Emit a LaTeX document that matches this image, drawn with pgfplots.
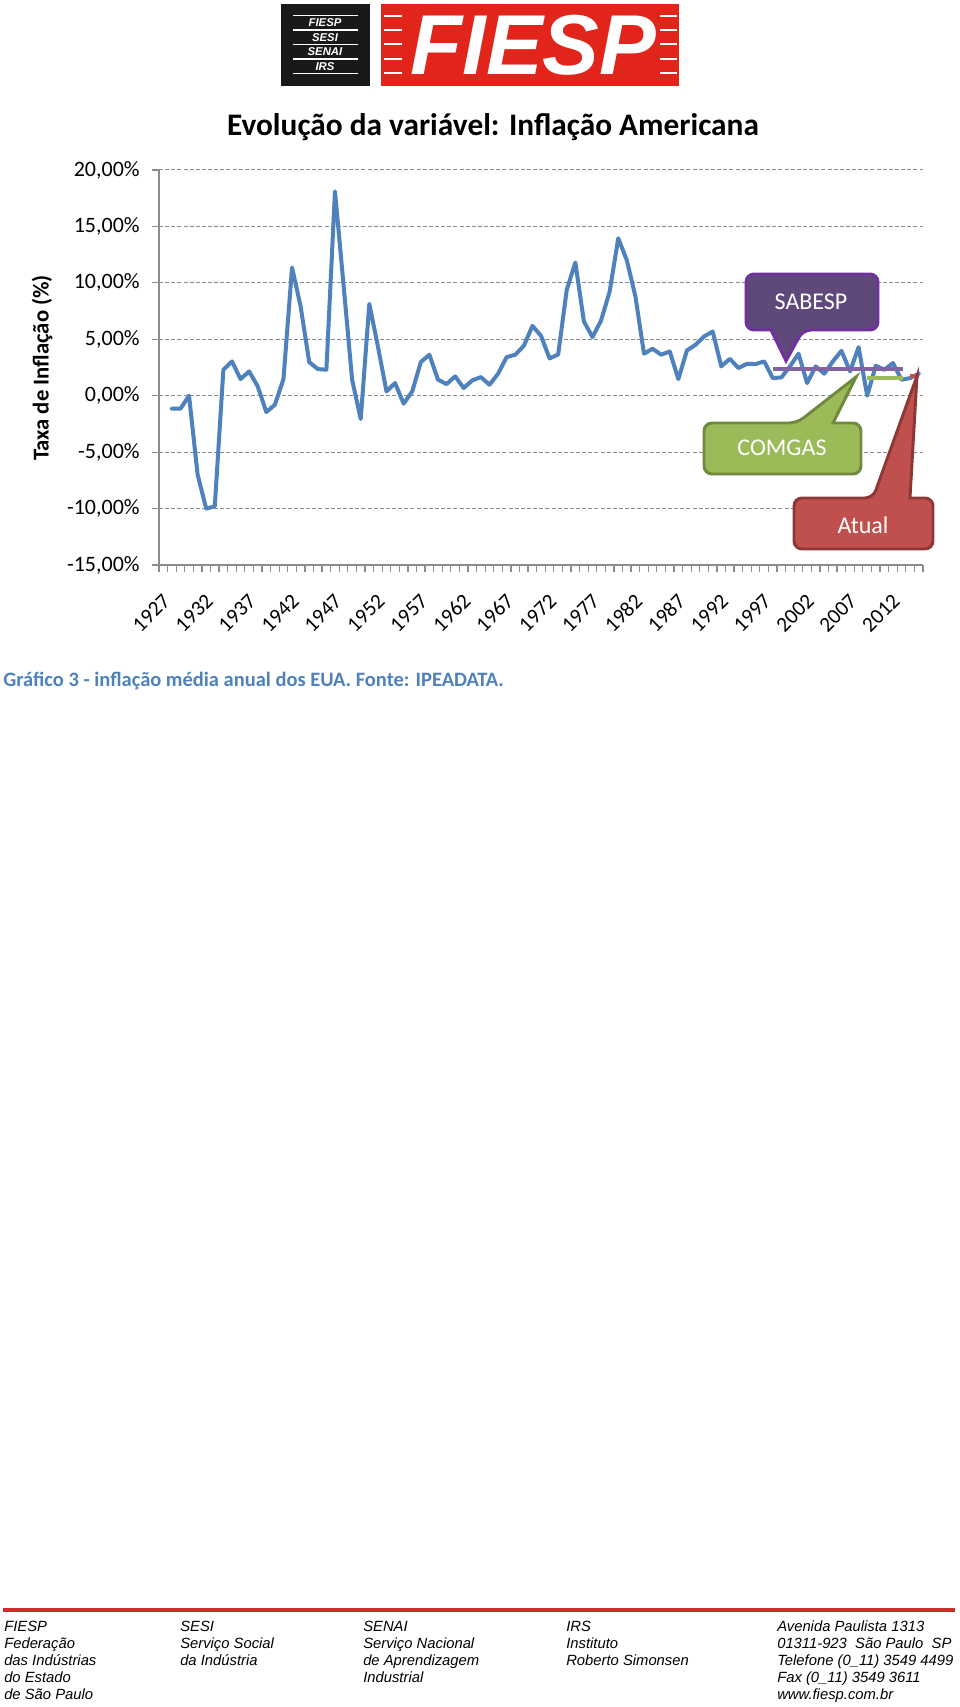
\documentclass[border=0pt]{standalone}
\usepackage{fontspec}
\setmainfont{Carlito}
\newfontfamily\arialf{Liberation Sans}
\usepackage{pgfplots}
\usepackage{pgfplotstable}
\pgfplotsset{compat=1.18}

\definecolor{lineblue}{HTML}{4F81BD}
\definecolor{gridgray}{HTML}{8A8A8A}
\definecolor{axisgray}{HTML}{8C8C8C}
\definecolor{sabline}{HTML}{8064A2}
\definecolor{sabfill}{HTML}{5F497A}
\definecolor{sabdraw}{HTML}{7030A0}
\definecolor{comfill}{HTML}{9BBB59}
\definecolor{comdraw}{HTML}{71893F}
\definecolor{atufill}{HTML}{C0504D}
\definecolor{atudraw}{HTML}{8C3836}
\definecolor{capblue}{HTML}{4F81BD}
\definecolor{fiespred}{HTML}{E1251B}
\definecolor{footred}{HTML}{C9302C}

\pgfplotstableread{
year val
1927 -1.15
1928 -1.15
1929 0.0
1930 -7.0
1931 -10.0
1932 -9.8
1933 2.3
1934 3.04
1935 1.47
1936 2.15
1937 0.83
1938 -1.45
1939 -0.8
1940 1.47
1941 11.36
1942 7.9
1943 2.98
1944 2.36
1945 2.3
1946 18.1
1947 9.8
1948 1.4
1949 -2.07
1950 8.14
1951 4.37
1952 0.38
1953 1.12
1954 -0.71
1955 0.38
1956 2.98
1957 3.63
1958 1.42
1959 1.03
1960 1.71
1961 0.68
1962 1.36
1963 1.65
1964 0.97
1965 1.95
1966 3.42
1967 3.63
1968 4.42
1969 6.19
1970 5.31
1971 3.3
1972 3.65
1973 9.38
1974 11.8
1975 6.58
1976 5.19
1977 6.67
1978 9.23
1979 13.95
1980 12.0
1981 8.79
1982 3.72
1983 4.16
1984 3.63
1985 3.92
1986 1.47
1987 4.01
1988 4.51
1989 5.25
1990 5.69
1991 2.6
1992 3.27
1993 2.45
1994 2.83
1995 2.8
1996 3.04
1997 1.56
1998 1.62
1999 2.6
2000 3.72
2001 1.12
2002 2.6
2003 1.95
2004 3.04
2005 3.98
2006 2.15
2007 4.3
2008 0.0
2009 2.65
2010 2.3
2011 2.89
2012 1.42
2013 1.56
2014 1.95
}\inflation

\begin{document}
\begin{tikzpicture}[x=0.75pt,y=0.75pt]
\path[use as bounding box, fill=white] (0,0) rectangle (960,1707);

\begin{axis}[
  at={(119.25pt,856.5pt)}, anchor=south west,
  width=573pt, height=296.25pt, scale only axis,
  xmin=1925.5, xmax=2014.5, ymin=-15, ymax=20,
  axis x line=bottom, axis y line=left,
  axis line style={-, draw=axisgray, line width=1.1pt},
  tick align=outside,
  major tick length=5pt,
  tick style={draw=axisgray, line width=0.9pt},
  xtick={1925.5,1926.5,...,2014.5},
  xticklabels={},
  extra x ticks={1927,1932,...,2012},
  extra x tick labels={1927,1932,1937,1942,1947,1952,1957,1962,1967,1972,1977,1982,1987,1992,1997,2002,2007,2012},
  extra x tick style={major tick length=0pt},
  xticklabel style={font=\fontsize{16}{18}\selectfont, anchor=east, xshift=-1.5pt, yshift=-22pt, rotate=45},
  ytick={-15,-10,...,20},
  yticklabels={{-15,00\%},{-10,00\%},{-5,00\%},{0,00\%},{5,00\%},{10,00\%},{15,00\%},{20,00\%}},
  yticklabel style={font=\fontsize{16.5}{18}\selectfont, anchor=east, xshift=-6pt},
  ymajorgrids,
  major grid style={draw=gridgray, line width=0.75pt, dash pattern=on 3pt off 1.6pt},
  clip=false,
]
\addplot[color=lineblue, line width=3pt, line join=round, line cap=round] table[x=year, y=val] {\inflation};
\addplot[color=sabline, line width=3pt] coordinates {(1997,2.39) (2012.2,2.39)};
\addplot[color=comfill, line width=3pt] coordinates {(2008,1.56) (2012.2,1.56)};
\addplot[color=atufill, line width=3pt] coordinates {(2013,1.71) (2014,1.71)};
\end{axis}

\begin{scope}[shift={(0,1707)}, yscale=-1]
% logo
\fill[black!90] (281,4) rectangle (370,86);
\foreach \yy in {15.7,30,44.3,59,73.3} \draw[white, line width=1.1pt] (293,\yy) -- (358,\yy);
\foreach \tx/\yy in {FIESP/23,SESI/37.3,SENAI/51.7,IRS/66.2}
  \node[white, inner sep=0pt, font=\arialf\bfseries\itshape\fontsize{8.5}{9}\selectfont] at (325,\yy) {\tx};
\fill[fiespred] (381,4) rectangle (679,86);
\foreach \yy in {15.7,30,44.3,59,73.3} {
  \draw[white, line width=1.3pt] (384,\yy) -- (402,\yy);
  \draw[white, line width=1.3pt] (660,\yy) -- (677,\yy);
}
\node[white, inner sep=0pt, font=\arialf\bfseries\itshape\fontsize{63.75}{64}\selectfont] at (533.5,45.5) {FIESP};

% title
\node[inner sep=0pt, font=\bfseries\fontsize{23.5}{26}\selectfont] at (493,127) {Evolução da variável: Inflação Americana};
% y label
\node[inner sep=0pt, rotate=90, font=\bfseries\fontsize{17}{20}\selectfont] at (42,368) {Taxa de Inflação (\%)};

% callouts
\filldraw[fill=sabfill, draw=sabdraw, line width=2.2pt, rounded corners=6pt]
  (746,274) -- (878,274) -- (878,330) -- (803,330) [sharp corners] -- (786,361) -- (771,330) [rounded corners=6pt] -- (746,330) -- cycle;
\node[white, inner sep=0pt, font=\fontsize{18}{20}\selectfont] at (811,302) {SABESP};

\filldraw[fill=comfill, draw=comdraw, line width=2.2pt, rounded corners=6pt]
  (704,423) -- (797,423) [sharp corners] -- (856,377) -- (833,423) [rounded corners=6pt] -- (861,423) -- (861,474) -- (704,474) -- cycle;
\node[white, inner sep=0pt, font=\fontsize{18}{20}\selectfont] at (782,448) {COMGAS};

\filldraw[fill=atufill, draw=atudraw, line width=2.2pt, rounded corners=6pt]
  (794,498) -- (873,498) [sharp corners] -- (917,376) -- (910,498) [rounded corners=6pt] -- (933,498) -- (933,549) -- (794,549) -- cycle;
\node[white, inner sep=0pt, font=\fontsize{18}{20}\selectfont] at (863,525) {Atual};

% caption
\node[anchor=base west, inner sep=0pt, text=capblue, font=\bfseries\fontsize{15.35}{18}\selectfont] at (3,687) {Gráfico 3 - inflação média anual dos EUA. Fonte: IPEADATA.};

% footer
\draw[footred, line width=2.6pt] (3,1610) -- (955,1610);
\begin{scope}[every node/.style={anchor=base west, inner sep=0pt, font=\arialf\itshape\fontsize{11.1}{12}\selectfont}]
\node at (4,1631.5) {FIESP};
\node at (4,1648.5) {Federação};
\node at (4,1665.5) {das Indústrias};
\node at (4,1682.5) {do Estado};
\node at (4,1699.5) {de São Paulo};
\node at (180,1631.5) {SESI};
\node at (180,1648.5) {Serviço Social};
\node at (180,1665.5) {da Indústria};
\node at (363,1631.5) {SENAI};
\node at (363,1648.5) {Serviço Nacional};
\node at (363,1665.5) {de Aprendizagem};
\node at (363,1682.5) {Industrial};
\node at (566,1631.5) {IRS};
\node at (566,1648.5) {Instituto};
\node at (566,1665.5) {Roberto Simonsen};
\node at (777,1631.5) {Avenida Paulista 1313};
\node at (777,1648.5) {01311-923\ \ São Paulo\ \ SP};
\node at (777,1665.5) {Telefone (0\_11) 3549 4499};
\node at (777,1682.5) {Fax (0\_11) 3549 3611};
\node at (777,1699.5) {www.fiesp.com.br};
\end{scope}
\end{scope}
\end{tikzpicture}
\end{document}
